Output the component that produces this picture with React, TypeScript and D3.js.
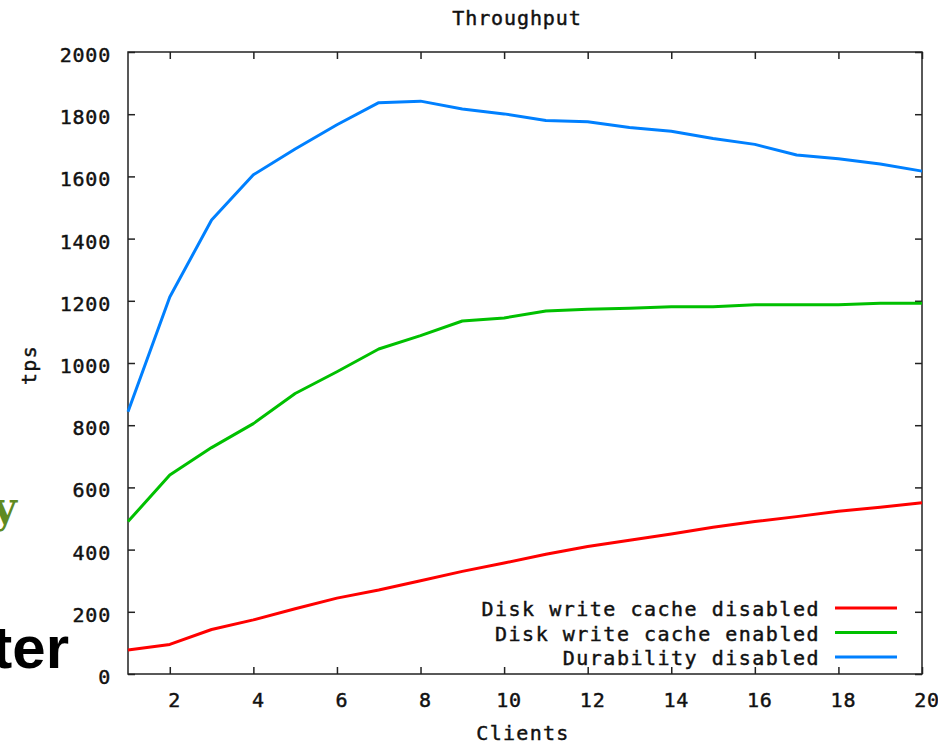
import { useEffect, useRef } from "react"
import { select, scaleLinear, line, axisBottom, axisLeft, axisTop, axisRight } from "d3"

// Data
const clients = [1, 2, 3, 4, 5, 6, 7, 8, 9, 10, 11, 12, 13, 14, 15, 16, 17, 18, 19, 20]
const cacheDisabled = [77, 95, 143, 174, 210, 244, 270, 300, 330, 357, 385, 410, 430, 450, 472, 490, 506, 523, 536, 551]
const cacheEnabled = [490, 640, 728, 805, 902, 972, 1045, 1088, 1135, 1145, 1167, 1173, 1176, 1181, 1181, 1187, 1187, 1187, 1192, 1192]
const durabilityOff = [843, 1212, 1460, 1605, 1688, 1766, 1837, 1842, 1817, 1801, 1780, 1776, 1757, 1745, 1722, 1703, 1669, 1657, 1640, 1617]
const seriesNames = ["Disk write cache disabled", "Disk write cache enabled", "Durability disabled"]
const seriesColors = ["#ff0000", "#00c000", "#0080ff"]
const xTicks = [2, 4, 6, 8, 10, 12, 14, 16, 18, 20]
const yTicks = [0, 200, 400, 600, 800, 1000, 1200, 1400, 1600, 1800, 2000]

const W = 938
const H = 745
const margin = { top: 52, right: 16, bottom: 71, left: 128 }
const mono = "'DejaVu Sans Mono', monospace"

export default function App() {
    const svgRef = useRef<SVGSVGElement>(null)

    useEffect(() => {
        const svg = select(svgRef.current)
        svg.selectAll("*").remove()

        const x = scaleLinear([1, 20], [margin.left, W - margin.right])
        const y = scaleLinear([0, 2000], [H - margin.bottom, margin.top])

        // bitmap-ish text helper
        const label = (g: any) => g
            .attr("font-family", mono).attr("font-size", 20)
            .attr("fill", "#111").attr("stroke", "#111").attr("stroke-width", 0.45)

        // slide text showing behind the chart
        svg.append("text")
            .attr("x", 17).attr("y", 522)
            .attr("text-anchor", "end")
            .attr("font-family", "'DejaVu Serif', serif")
            .attr("font-weight", "bold")
            .attr("font-size", 42)
            .attr("fill", "#5f8a22")
            .text("y")
        svg.append("text")
            .attr("x", 69).attr("y", 668)
            .attr("text-anchor", "end")
            .attr("font-family", "'Liberation Sans', Arial, sans-serif")
            .attr("font-weight", "bold")
            .attr("font-size", 60)
            .attr("fill", "#000")
            .text("ter")

        // axes, gnuplot style: inward ticks on all sides
        const tickLen = 7
        const styleAxis = (g: any) => {
            g.select(".domain").remove()
            g.selectAll("line").attr("stroke", "#222").attr("stroke-width", 1.5)
            g.selectAll("text").remove()
        }
        svg.append("g").attr("transform", `translate(0,${y(0)})`)
            .call(axisBottom(x).tickValues(xTicks).tickSizeInner(-tickLen).tickSizeOuter(0)).call(styleAxis)
        svg.append("g").attr("transform", `translate(0,${y(2000)})`)
            .call(axisTop(x).tickValues(xTicks).tickSizeInner(-tickLen).tickSizeOuter(0)).call(styleAxis)
        svg.append("g").attr("transform", `translate(${x(1)},0)`)
            .call(axisLeft(y).tickValues(yTicks).tickSizeInner(-tickLen).tickSizeOuter(0)).call(styleAxis)
        svg.append("g").attr("transform", `translate(${x(20)},0)`)
            .call(axisRight(y).tickValues(yTicks).tickSizeInner(-tickLen).tickSizeOuter(0)).call(styleAxis)

        svg.append("rect")
            .attr("x", x(1)).attr("y", y(2000))
            .attr("width", x(20) - x(1)).attr("height", y(0) - y(2000))
            .attr("fill", "none").attr("stroke", "#222").attr("stroke-width", 1.5)

        // tick labels
        svg.selectAll(".xlabel").data(xTicks).join("text")
            .attr("x", d => x(d) + 5).attr("y", y(0) + 33)
            .attr("text-anchor", "middle")
            .attr("letter-spacing", 0.8)
            .call(label)
            .text(d => d)
        svg.selectAll(".ylabel").data(yTicks).join("text")
            .attr("x", x(1) - 17).attr("y", d => y(d) + 10)
            .attr("text-anchor", "end")
            .attr("letter-spacing", 0.8)
            .call(label)
            .text(d => d)

        // titles
        svg.append("text")
            .attr("x", 517).attr("y", 25)
            .attr("text-anchor", "middle")
            .attr("letter-spacing", 0.9)
            .call(label)
            .text("Throughput")
        svg.append("text")
            .attr("x", 523).attr("y", 740)
            .attr("text-anchor", "middle")
            .attr("letter-spacing", 1.3)
            .call(label)
            .text("Clients")
        svg.append("text")
            .attr("transform", "translate(36,365) rotate(-90)")
            .attr("text-anchor", "middle")
            .attr("letter-spacing", 1.3)
            .call(label)
            .text("tps")

        // lines
        const series = [cacheDisabled, cacheEnabled, durabilityOff]
        const path = line<number>()
            .x((_, i) => x(clients[i]))
            .y(d => y(d))
        series.forEach((values, i) => {
            svg.append("path")
                .attr("fill", "none")
                .attr("stroke", seriesColors[i])
                .attr("stroke-width", 3)
                .attr("stroke-linejoin", "round")
                .attr("d", path(values))
        })

        // legend
        const legend = svg.append("g")
        seriesNames.forEach((name, i) => {
            const base = 616 + i * 24.5
            legend.append("text")
                .attr("x", 820).attr("y", base)
                .attr("text-anchor", "end")
                .attr("letter-spacing", 1.5)
                .call(label)
                .text(name)
            legend.append("line")
                .attr("x1", 835).attr("x2", 897)
                .attr("y1", base - 8).attr("y2", base - 8)
                .attr("stroke", seriesColors[i]).attr("stroke-width", 3)
        })
    }, [])

    return <svg ref={svgRef} width={W} height={H}
        style={{ position: "absolute", left: 0, top: 0, background: "#fff" }} />
}
